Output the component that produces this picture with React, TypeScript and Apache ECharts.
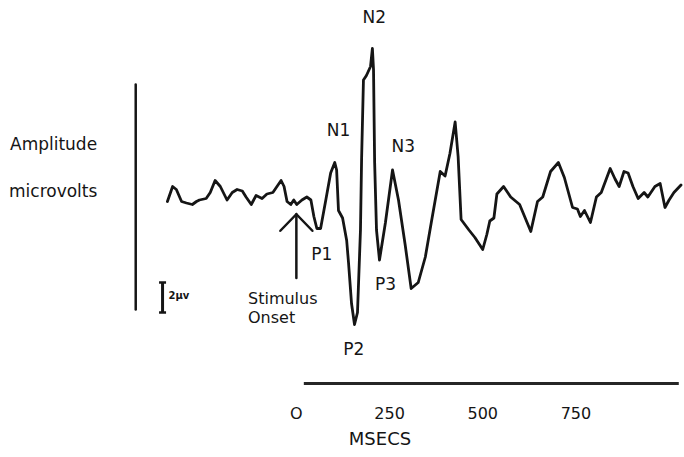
import { useEffect, useRef } from "react";
import * as echarts from "echarts";

// Evoked potential trace: time after stimulus (ms) and amplitude (µV, negative drawn upward)
const timesMs = [
  -346, -332, -322, -308, -295, -279, -268, -260, -242, -231, -218, -204, -186, -172, -159, -145,
  -135, -121, -108, -92, -79, -63, -52, -41, -33, -25, -15, -7, 1, 15, 28, 39, 47, 55, 65, 79, 92,
  103, 108, 113, 124, 135, 140, 148, 156, 164, 172, 175, 180, 188, 199, 204, 207, 210, 215, 223,
  239, 258, 274, 292, 308, 327, 346, 362, 386, 399, 412, 426, 434, 442, 463, 479, 500, 511, 519,
  530, 538, 556, 575, 599, 629, 647, 661, 682, 703, 719, 741, 754, 762, 773, 789, 805, 818, 842,
  855, 866, 879, 890, 903, 917, 933, 943, 962, 976, 989, 1000, 1013, 1032,
];
const amplitudeUv = [
  0.1, -0.9, -0.7, 0.1, 0.2, 0.3, 0.1, 0, -0.1, -0.5, -1.3, -0.9, 0, -0.5, -0.7, -0.6,
  -0.2, 0.3, -0.3, -0.1, -0.4, -0.5, -0.9, -1.3, -0.9, 0.1, 0.3, 0, 0.3, 0, -0.2, 0, 1.1, 1.9, 1.9, 0, -1.8,
  -2.5, -2.0, 0.7, 1.2, 2.7, 4.2, 6.9, 8.3, 7.5, 2.0, -2.7, -8.0, -8.3, -8.9, -10.1, -8.7, -2.5, 2.0, 4.0,
  1.5, -2.0, 0, 3.0, 5.9, 5.5, 3.8, 1.5, -1.9, -1.6, -3.1, -5.2, -2.9, 1.3, 2.0, 2.5, 3.3, 2.3, 1.4,
  1.2, -0.4, -0.9, -0.2, 0.3, 2.1, 0.1, -0.2, -1.9, -2.5, -1.5, 0.5, 0.6, 1.1, 0.7, 1.5, -0.2, -0.5, -2.1,
  -1.4, -0.9, -1.9, -1.8, -0.9, -0.1, -0.5, -0.2, -0.9, -1.1, 0.5, 0, -0.5, -1.0,
];

// Time-axis tick labels
const tickValues = [0, 250, 500, 750];
const tickLabels = ["O", "250", "500", "750"];

// Component names and where their labels sit (ms, µV)
const peakNames = ["N1", "N2", "N3", "P1", "P2", "P3"];
const peakLabelMs = [113, 209, 287, 68, 154, 239];
const peakLabelUv = [-4.7, -12.2, -3.6, 3.6, 9.9, 5.6];

const INK = "#151515";
const FONT = '"DejaVu Sans", "Liberation Sans", sans-serif';

export default function App() {
  const ref = useRef<HTMLDivElement>(null);

  useEffect(() => {
    if (!ref.current) return;
    const chart = echarts.init(ref.current, undefined, { renderer: "svg" });

    chart.setOption({
      animation: false,
      backgroundColor: "#ffffff",
      grid: { left: 110, width: 577, top: 5, height: 390, containLabel: false },
      xAxis: {
        type: "value",
        min: -500,
        max: 1040,
        interval: 250,
        axisLine: { show: false },
        axisTick: { show: false },
        splitLine: { show: false },
        axisLabel: {
          margin: 10,
          fontSize: 16,
          fontFamily: FONT,
          color: INK,
          showMaxLabel: false,
          formatter: (v: number) => {
            const i = tickValues.indexOf(v);
            return i >= 0 ? tickLabels[i] : "";
          },
        },
      },
      yAxis: {
        type: "value",
        inverse: true,
        min: -13,
        max: 13,
        show: false,
      },
      series: [
        {
          type: "line",
          data: timesMs.map((t, i) => [t, amplitudeUv[i]]),
          showSymbol: false,
          symbol: "none",
          silent: true,
          lineStyle: { color: INK, width: 2.8, join: "round", cap: "round" },
          markLine: {
            silent: true,
            symbol: "none",
            label: { show: false },
            lineStyle: { color: "#262626", width: 3, type: "solid" },
            data: [[{ coord: [20, 12.2] }, { coord: [1026, 12.2] }]],
          },
          markPoint: {
            silent: true,
            symbol: "circle",
            symbolSize: 0,
            data: peakNames.map((n, i) => ({
              name: n,
              coord: [peakLabelMs[i], peakLabelUv[i]],
            })),
            label: {
              show: true,
              position: "inside",
              formatter: "{b}",
              fontSize: 17,
              fontFamily: FONT,
              color: INK,
            },
          },
        },
      ],
    });

    const px = (ms: number, uv: number) =>
      chart.convertToPixel({ gridIndex: 0 }, [ms, uv]) as number[];

    // Stimulus-onset arrow at t = 0
    const tip = px(0, 0.95);
    const tail = px(0, 5.2);
    const armL = px(-43, 2.05);
    const armR = px(43, 2.05);

    // Amplitude reference line and 2 µV calibration bar
    const ampTop = px(-431, -7.7);
    const ampBot = px(-431, 7.3);
    const calTop = px(-359, 5.5);
    const calBot = px(-359, 7.5);

    const stroke = { stroke: INK, lineWidth: 2.5, lineCap: "round" };
    const text = (t: string, x: number, y: number, size: number, align = "left", weight = "normal") => ({
      type: "text",
      style: {
        text: t,
        x,
        y,
        font: `${weight} ${size}px ${FONT}`,
        fill: INK,
        textAlign: align,
        textVerticalAlign: "middle",
      },
      silent: true,
    });

    chart.setOption({
      graphic: [
        { type: "line", shape: { x1: tip[0], y1: tip[1], x2: tail[0], y2: tail[1] }, style: stroke, silent: true },
        {
          type: "polyline",
          shape: { points: [armL, tip, armR] },
          style: { ...stroke, fill: null, lineJoin: "miter" },
          silent: true,
        },
        { type: "line", shape: { x1: ampTop[0], y1: ampTop[1], x2: ampBot[0], y2: ampBot[1] }, style: stroke, silent: true },
        {
          type: "line",
          shape: { x1: calTop[0], y1: calTop[1], x2: calBot[0], y2: calBot[1] },
          style: { stroke: INK, lineWidth: 3 },
          silent: true,
        },
        {
          type: "line",
          shape: { x1: calTop[0] - 3.5, y1: calTop[1], x2: calTop[0] + 3.5, y2: calTop[1] },
          style: { stroke: INK, lineWidth: 2.5 },
          silent: true,
        },
        {
          type: "line",
          shape: { x1: calBot[0] - 3.5, y1: calBot[1], x2: calBot[0] + 3.5, y2: calBot[1] },
          style: { stroke: INK, lineWidth: 2.5 },
          silent: true,
        },
        text("2μv", calTop[0] + 6, calTop[1] + 13, 10, "left", "bold"),
        text("Amplitude", 10, 144, 17),
        text("microvolts", 9, 191, 17),
        text("Stimulus", 248, 298, 16),
        text("Onset", 248, 317, 16),
        text("MSECS", 380, 438, 18, "center"),
      ],
    });

    return () => chart.dispose();
  }, []);

  return (
    <div
      ref={ref}
      style={{ position: "fixed", left: 0, top: 0, width: 684, height: 457, background: "#ffffff" }}
    />
  );
}
